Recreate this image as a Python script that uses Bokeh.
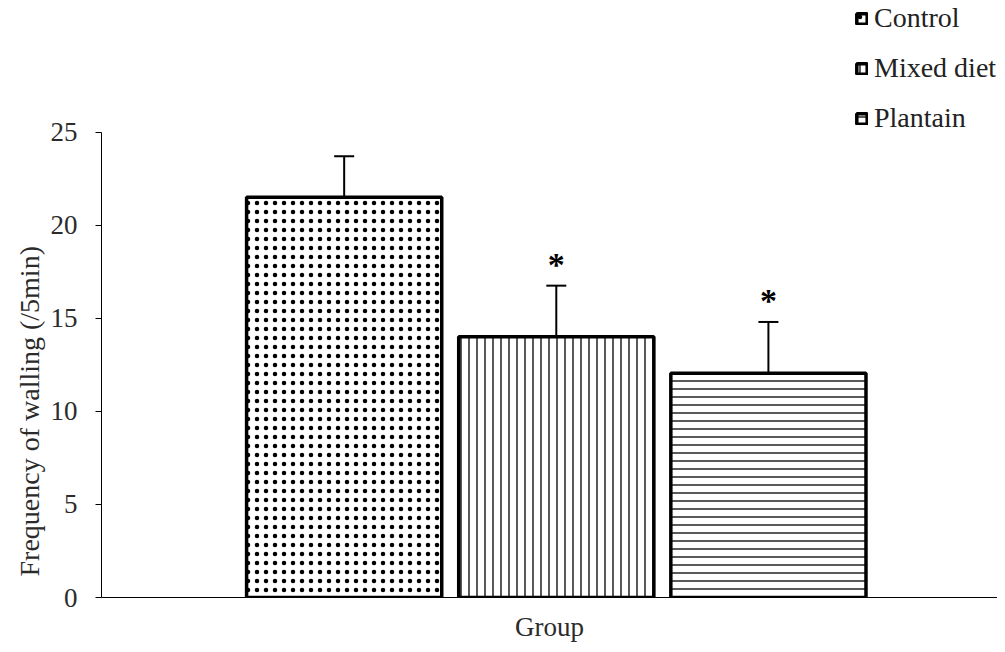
from bokeh.plotting import figure
from bokeh.models import Range1d, FixedTicker, Legend, LegendItem, ColumnDataSource, Title
from bokeh.core.properties import value
from bokeh.embed import file_html
from bokeh.resources import INLINE

groups = ["Control", "Mixed diet", "Plantain"]
means = [21.5, 14.0, 12.05]
errors = [2.2, 2.75, 2.75]
significant = ["", "*", "*"]
y_ticks = [0, 5, 10, 15, 20, 25]

# styles (not data)
HATCHES = [".", "|", "-"]
HATCH_SCALES = [9, 8, 8]
HATCH_WEIGHTS = [0.8, 1.3, 1.3]

xs = [i + 1 for i in range(len(groups))]
tops = [m + e for m, e in zip(means, errors)]

FONT = "Liberation Serif"
TXT = "#2b2b2b"

# frame spans whole canvas height above the x axis; axis value 25 sits at ~132px
AXIS_MAX = y_ticks[-1]
p = figure(width=997, height=644, output_backend="svg", toolbar_location=None,
           x_range=Range1d(-0.144, 4.08), y_range=Range1d(0, AXIS_MAX * 599 / 467),
           min_border_left=101, min_border_right=0, min_border_top=0,
           min_border_bottom=45)
p.outline_line_color = None
p.xgrid.visible = False
p.ygrid.visible = False
p.background_fill_color = "white"

src = ColumnDataSource(dict(x=xs, top=means, hatch=HATCHES, hscale=HATCH_SCALES,
                            hweight=HATCH_WEIGHTS, name=groups))
bars = p.vbar(x="x", top="top", width=0.92, bottom=0, source=src,
              fill_color="white", line_color="black", line_width=3.5,
              hatch_pattern="hatch", hatch_color="black", hatch_scale="hscale",
              hatch_weight="hweight")

p.segment(x0=xs, y0=means, x1=xs, y1=tops, line_color="black", line_width=2)
p.dash(x=xs, y=tops, size=20, line_color="black", line_width=2)

p.text(x=xs, y=tops, text=significant, text_font=value(FONT),
       text_font_size="34px", text_font_style="bold", text_color="black",
       text_align="center", text_baseline="middle", y_offset=-21)

p.yaxis.ticker = FixedTicker(ticks=y_ticks)
p.yaxis.bounds = (0, AXIS_MAX)
p.yaxis.minor_tick_line_color = None
p.yaxis.major_tick_out = 6
p.yaxis.major_tick_in = 0
p.yaxis.major_label_standoff = 18
p.yaxis.axis_line_color = "black"
p.yaxis.major_tick_line_color = "black"
p.yaxis.major_label_text_font = FONT
p.yaxis.major_label_text_font_size = "27px"
p.yaxis.major_label_text_color = TXT

ytitle = Title(text="Frequency of walling  (/5min)", align="left", offset=21,
               standoff=6, text_font=FONT, text_font_size="28px",
               text_font_style="normal", text_color=TXT)
p.add_layout(ytitle, "left")

p.xaxis.ticker = FixedTicker(ticks=[])
p.xaxis.major_tick_line_color = None
p.xaxis.minor_tick_line_color = None
p.xaxis.axis_line_color = "black"
p.xaxis.axis_label = "Group"
p.xaxis.axis_label_text_font = FONT
p.xaxis.axis_label_text_font_size = "27px"
p.xaxis.axis_label_text_font_style = "normal"
p.xaxis.axis_label_text_color = TXT
p.xaxis.axis_label_standoff = 14

items = [LegendItem(label=g, renderers=[bars], index=i) for i, g in enumerate(groups)]
legend = Legend(items=items, location=(754, 463), padding=0, margin=0,
                glyph_width=13, glyph_height=13, label_height=30, spacing=18,
                label_standoff=6, border_line_color=None,
                background_fill_alpha=0, label_text_font=FONT,
                label_text_font_size="28px", label_text_color="#222222")
p.add_layout(legend, "center")

open("out.html", "w").write(file_html(p, INLINE))
